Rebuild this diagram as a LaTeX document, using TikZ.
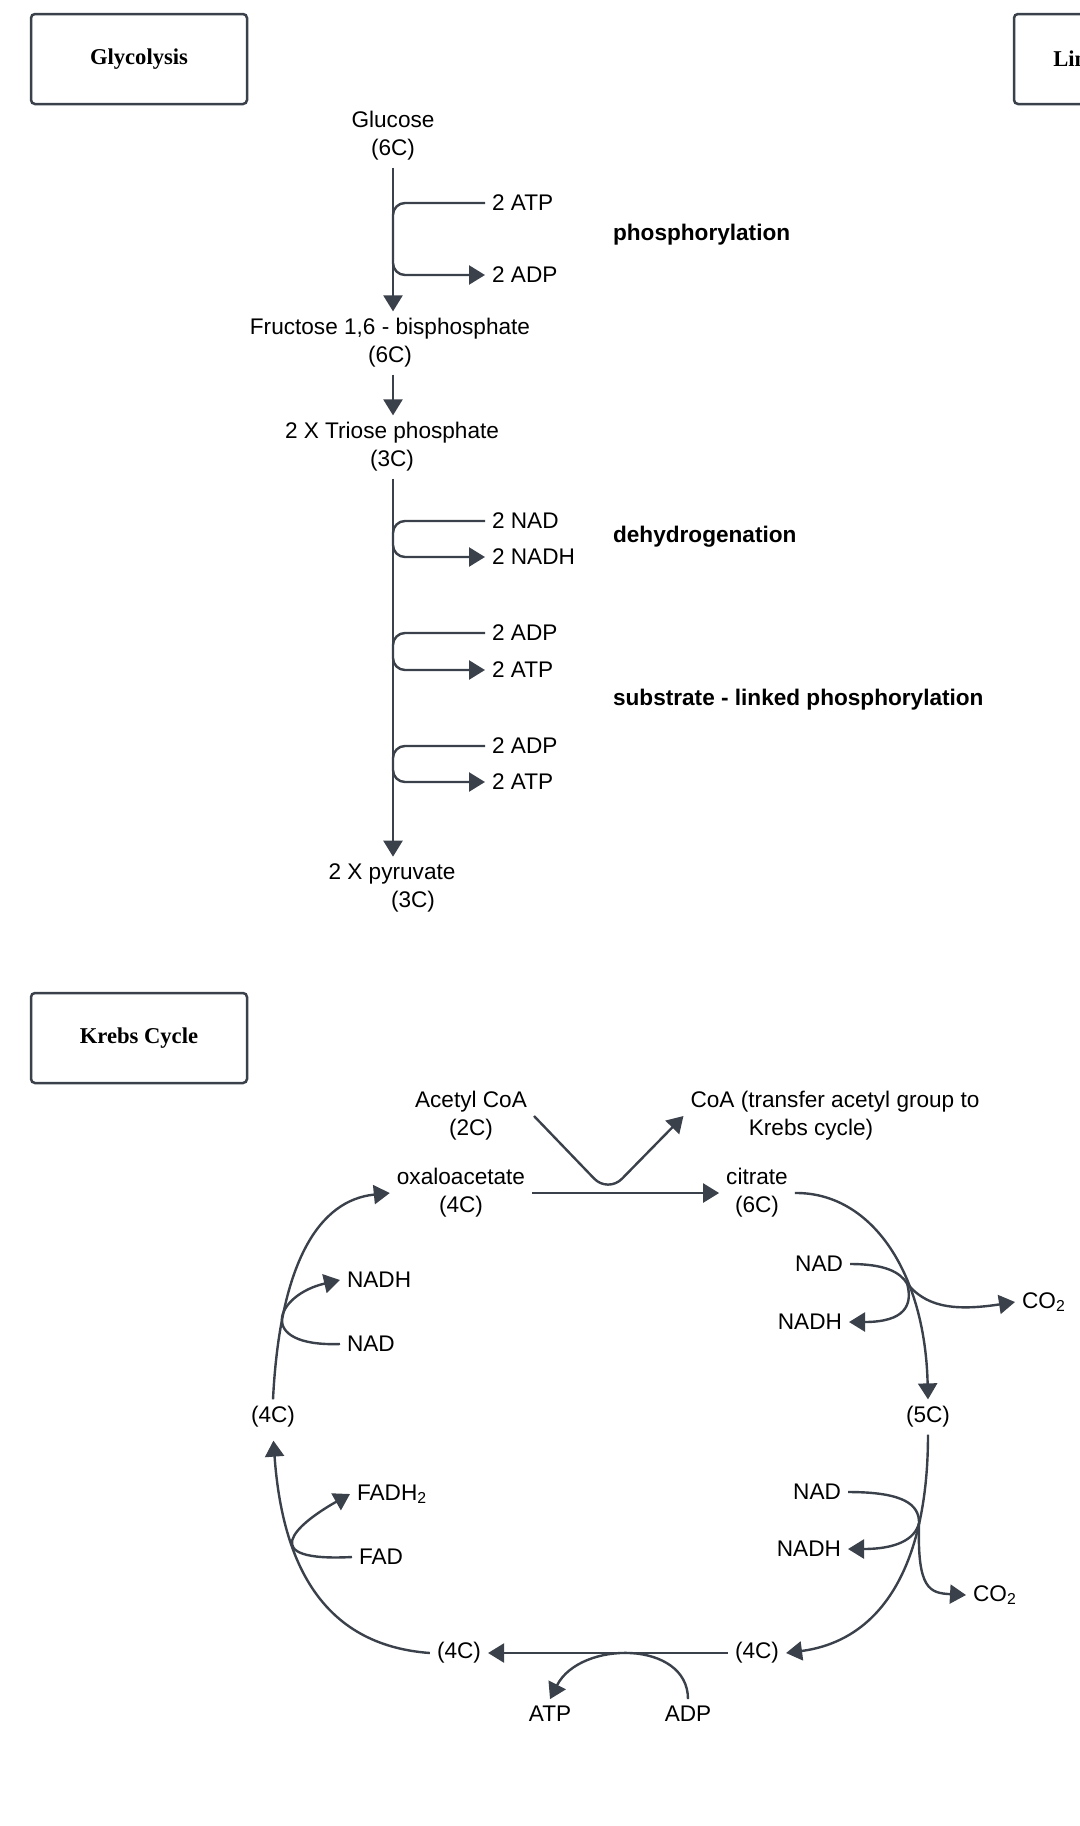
\documentclass[tikz,border=0pt]{standalone}
\usepackage{fontspec}
\setmainfont{Liberation Sans}
\newfontfamily\titlefont{Liberation Serif}
\usetikzlibrary{arrows.meta}
\definecolor{linegray}{HTML}{3A414A}

\begin{document}
\begin{tikzpicture}[%
    x=0.5pt,y=-0.5pt,%
    txt/.style={inner sep=3.35pt,font=\fontsize{11.3}{14}\selectfont},%
    twoline/.style={txt,align=center},%
    stage/.style={txt,anchor=west,font=\fontsize{11.3}{14}\selectfont\bfseries},%
    title/.style={%
        draw=linegray,line width=1.25pt,rounded corners=2pt,%
        minimum width=108pt,minimum height=45pt,%
        font=\titlefont\bfseries\fontsize{11.3}{14}\selectfont%
    },%
    flow/.style={draw=linegray,line width=1.2pt,-{Triangle[length=8pt,width=9.5pt]}},%
]%
    \useasboundingbox (0,0) rectangle (1080,1826);
    \clip (0,0) rectangle (1080,1826);

    % section titles
    \node[title] (glyco) at (139,59) {Glycolysis};
    \node[title] (link) at (1122,59) {Link Reaction};
    \node[title] (krebs) at (139,1038) {Krebs Cycle};

    % glycolysis
    \node[twoline] (glucose) at (393,136) {Glucose\\(6C)};
    \node[twoline] (fructose) at (390,343) {Fructose 1,6 - bisphosphate\\(6C)};
    \node[twoline] (triose) at (392,447) {2 X Triose phosphate\\(3C)};
    \node[twoline] (pyruvate) at (392,888) {2 X pyruvate\\\hspace*{21pt}(3C)};

    \draw[flow] (glucose.south) -- (glucose.south |- fructose.north);
    \draw[flow] (fructose.south -| glucose.south) -- (glucose.south |- triose.north);
    \draw[flow] (triose.south -| glucose.south) -- (glucose.south |- pyruvate.north);

    % side reactions on the glycolysis line
    \foreach \i/\yin/\yout/\tin/\tout in {%
        1/203/275/2 ATP/2 ADP,%
        2/521/557/2 NAD/2 NADH,%
        3/633/670/2 ADP/2 ATP,%
        4/746/782/2 ADP/2 ATP}{%
        \node[txt,anchor=west] (in\i) at (485,\yin) {\tin};
        \node[txt,anchor=west] (out\i) at (485,\yout) {\tout};
        \draw[flow,rounded corners=6pt] (in\i.west) -| (glucose.south |- out\i.west) -- (out\i.west);
    }

    \node[stage] (phos) at (606,235) {phosphorylation};
    \node[stage] (dehyd) at (606,537) {dehydrogenation};
    \node[stage] (slp) at (606,700) {substrate - linked phosphorylation};

    % krebs cycle
    \node[twoline] (acetyl) at (471,1116) {Acetyl CoA\\(2C)};
    \node[twoline] (coa) at (835,1116) {CoA (transfer acetyl group to\\Krebs cycle)\hspace*{24pt}};
    \node[twoline] (oxa) at (461,1193) {oxaloacetate\\(4C)};
    \node[twoline] (citrate) at (757,1193) {citrate\\(6C)};
    \node[txt] (c5) at (928,1417) {(5C)};
    \node[txt] (c4l) at (273,1417) {(4C)};
    \node[txt] (c4r) at (757,1653) {(4C)};
    \node[txt] (c4b) at (459,1653) {(4C)};

    \node[txt,anchor=west] (nadh1) at (340,1280) {NADH};
    \node[txt,anchor=west] (nad1) at (340,1344) {NAD};
    \node[txt,anchor=east] (nad2) at (850,1264) {NAD};
    \node[txt,anchor=east] (nadh2) at (849,1322) {NADH};
    \node[txt,anchor=west] (co2a) at (1015,1302) {CO\textsubscript{2}};
    \node[txt,anchor=east] (nad3) at (848,1492) {NAD};
    \node[txt,anchor=east] (nadh3) at (848,1549) {NADH};
    \node[txt,anchor=west] (co2b) at (966,1595) {CO\textsubscript{2}};
    \node[txt,anchor=west] (fadh) at (350,1494) {FADH\textsubscript{2}};
    \node[txt,anchor=west] (fad) at (352,1557) {FAD};
    \node[txt] (atp) at (550,1714) {ATP};
    \node[txt] (adp) at (688,1714) {ADP};

    \coordinate (join) at (608,1193);
    \draw[flow] (oxa.east) -- (citrate.west);
    \draw[flow,rounded corners=10pt] (acetyl.east) -- (join) -- (coa.west);

    % main cycle
    \draw[flow] (citrate.east) .. controls (870,1192) and (925,1270) .. (c5.north)
        coordinate[pos=0.65] (x1);
    \draw[flow] (c5.south) .. controls (928,1560) and (885,1640) .. (c4r.east)
        coordinate[pos=0.26] (x2);
    \draw[flow] (c4r.west) -- (c4b.east);
    \draw[flow,shorten >=3pt] (c4b.west) .. controls (320,1645) and (282,1560) .. (c4l.south);
    \draw[flow] (c4l.north) .. controls (280,1260) and (320,1200) .. (oxa.west);

    % products and cofactors
    \draw[flow] (nad2.east) .. controls (885,1264) and (900,1272) .. (x1)
        .. controls (925,1305) and (950,1312) .. (co2a.west);
    \draw[flow] (x1) .. controls (913,1305) and (905,1322) .. (nadh2.east);
    \draw[flow] (nad3.east) .. controls (905,1492) and (919,1505) .. (x2)
        .. controls (917,1590) and (930,1593) .. (co2b.west);
    \draw[flow] (x2) .. controls (915,1540) and (895,1549) .. (nadh3.east);
    \draw[flow] (nad1.west) .. controls (255,1347) and (275,1295) .. (nadh1.west);
    \draw[flow] (fad.west) .. controls (255,1562) and (295,1525) .. (fadh.west);
    \draw[flow] (adp.north) .. controls (688,1640) and (580,1640) .. (atp.north);
\end{tikzpicture}
\end{document}
